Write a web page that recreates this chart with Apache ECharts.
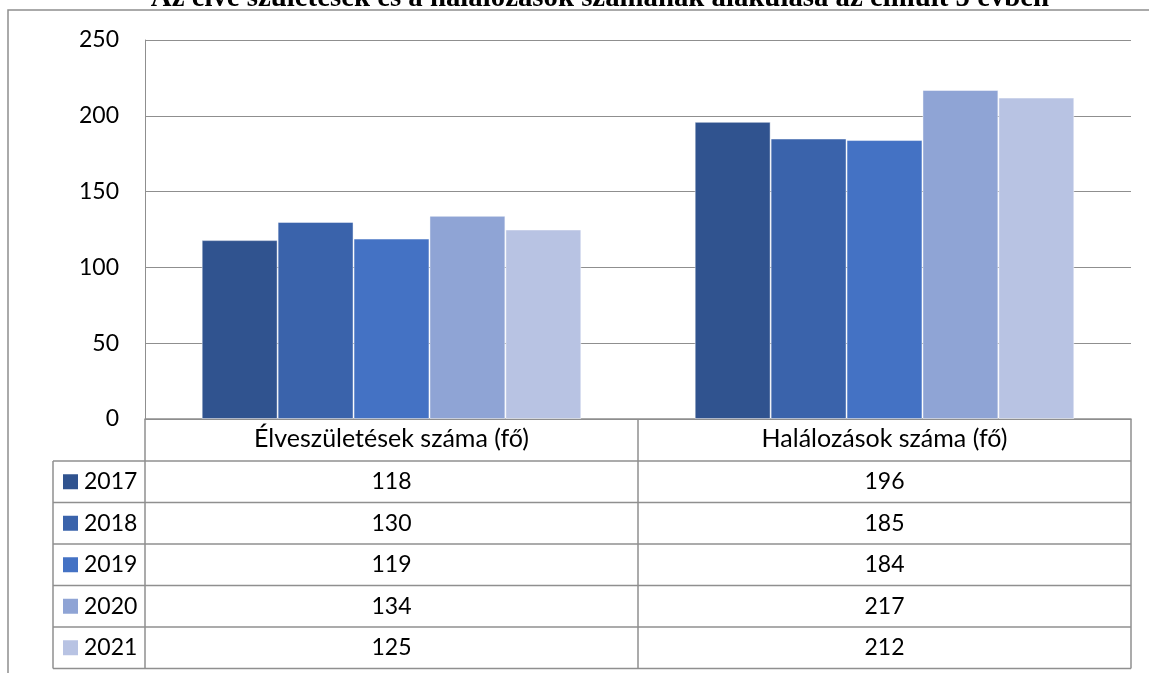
<!DOCTYPE html>
<html>
<head>
<meta charset="utf-8">
<script src="https://cdn.jsdelivr.net/npm/echarts@6/dist/echarts.min.js"></script>
<style>
  html, body { margin: 0; padding: 0; background: #fff; }
  #main { width: 1149px; height: 673px; }
</style>
</head>
<body>
<div id="main"></div>
<script>
const categories = ['Élveszületések száma (fő)', 'Halálozások száma (fő)']
const years = ['2017', '2018', '2019', '2020', '2021']
const values2017 = [118, 196]
const values2018 = [130, 185]
const values2019 = [119, 184]
const values2020 = [134, 217]
const values2021 = [125, 212]
const yTicks = [0, 50, 100, 150, 200, 250]
const title = 'Az élve születések és a halálozások számának alakulása az elmúlt 5 évben'

const seriesValues = [values2017, values2018, values2019, values2020, values2021]
const colors = ['#30538F', '#3A63AB', '#4472C4', '#8FA4D5', '#B8C3E3']
const font = 'Lato, sans-serif'
const numSize = 23
const headSize = 25
const lineColor = '#8f8f8f'

const chart = echarts.init(document.getElementById('main'))

chart.setOption({
  animation: false,
  grid: { left: 145, right: 18, top: 40, bottom: 254 },
  xAxis: {
    type: 'category',
    data: categories,
    axisLine: { show: true, lineStyle: { color: lineColor, width: 1.5 } },
    axisTick: { show: false },
    axisLabel: { margin: 20, verticalAlign: 'middle', fontSize: headSize, color: '#000', fontFamily: font }
  },
  yAxis: {
    type: 'value',
    min: yTicks[0],
    max: yTicks[yTicks.length - 1],
    interval: yTicks[1] - yTicks[0],
    axisLine: { show: true, lineStyle: { color: lineColor, width: 1 } },
    axisTick: { show: false },
    splitLine: { lineStyle: { color: lineColor, width: 1 } },
    axisLabel: { margin: 26, fontSize: numSize, color: '#000', fontFamily: font }
  },
  series: years.map((y, i) => ({
    name: y,
    type: 'bar',
    data: seriesValues[i],
    barGap: 0,
    barCategoryGap: '23%',
    itemStyle: { color: colors[i], borderColor: 'rgba(255,255,255,0.45)', borderWidth: 1 }
  }))
})

// data table under the axis
const tableTop = 419
const headerH = 42
const rowH = 41.5
const legendLeft = 53
const plotLeft = 145
const plotRight = 1131
const graphic = []
const line = (x1, y1, x2, y2) => graphic.push({
  type: 'line', shape: { x1, y1, x2, y2 }, style: { stroke: lineColor, lineWidth: 1.5 }, silent: true
})

const bottom = tableTop + headerH + rowH * years.length
const midX = (chart.convertToPixel({ xAxisIndex: 0 }, 0) + chart.convertToPixel({ xAxisIndex: 0 }, 1)) / 2
line(plotLeft, tableTop, plotLeft, bottom)
line(midX, tableTop, midX, bottom)
line(plotRight, tableTop, plotRight, bottom)
line(legendLeft, tableTop + headerH, legendLeft, bottom)
for (let r = 0; r <= years.length; r++) {
  const y = tableTop + headerH + rowH * r
  line(legendLeft, y, plotRight, y)
}

years.forEach((yr, r) => {
  const cy = tableTop + headerH + rowH * r + rowH / 2
  graphic.push({ type: 'rect', shape: { x: 63, y: cy - 7.5, width: 15, height: 15 }, style: { fill: colors[r] }, silent: true })
  graphic.push({ type: 'text', x: 84, y: cy, style: { text: yr, font: numSize + 'px ' + font, fill: '#000', verticalAlign: 'middle', align: 'left' }, silent: true })
  categories.forEach((c, k) => {
    const cx = chart.convertToPixel({ xAxisIndex: 0 }, k)
    graphic.push({ type: 'text', x: cx, y: cy, style: { text: String(seriesValues[r][k]), font: numSize + 'px ' + font, fill: '#000', verticalAlign: 'middle', align: 'center' }, silent: true })
  })
})

// outer frame
graphic.push({ type: 'polyline', shape: { points: [[8, 700], [8, 10], [1160, 10]] }, style: { stroke: lineColor, lineWidth: 1.5, fill: null }, silent: true })

// title (cut off at the top in the original)
graphic.push({ type: 'text', x: 600, y: -1, style: { text: title, font: 'bold 28.8px "Liberation Serif", "Times New Roman", serif', fill: '#000', align: 'center', verticalAlign: 'middle' }, silent: true })

chart.setOption({ graphic })
</script>
</body>
</html>
